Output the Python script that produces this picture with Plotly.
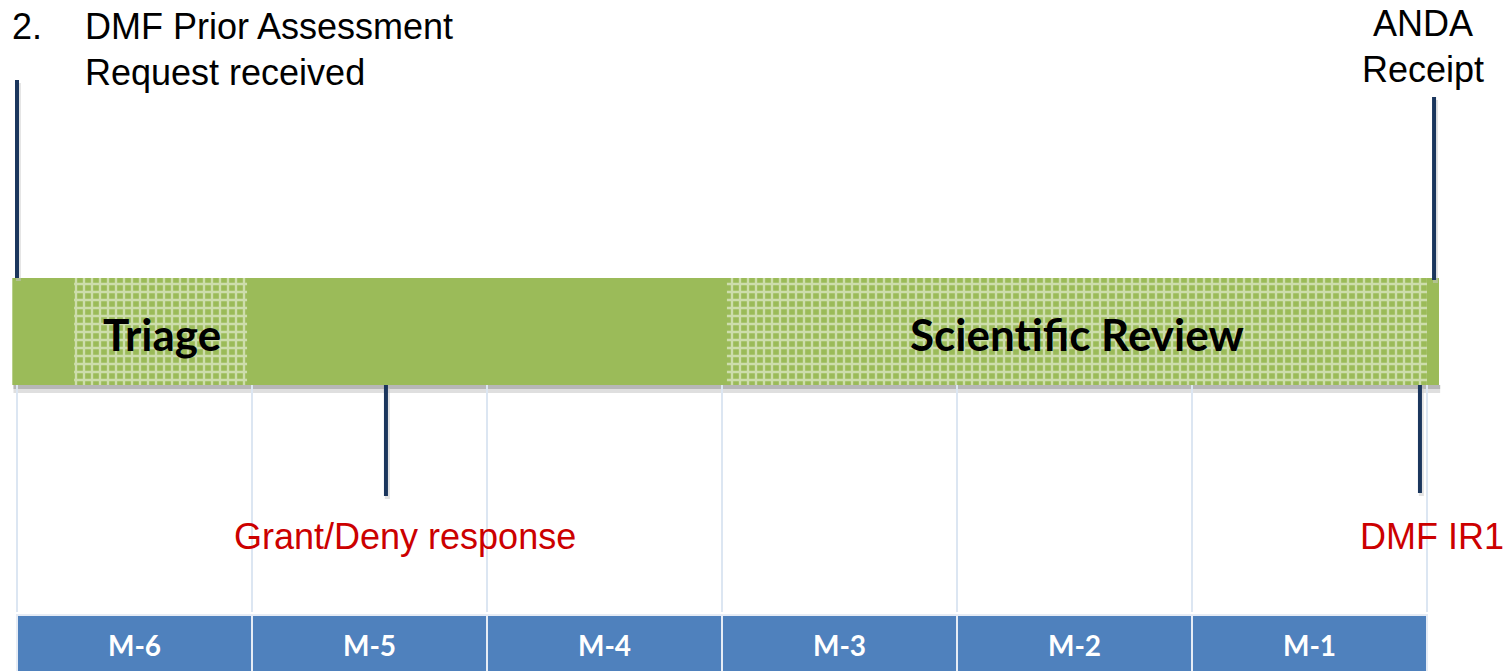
import plotly.graph_objects as go

# ---------------- data ----------------
months = ["M-6", "M-5", "M-4", "M-3", "M-2", "M-1"]
month_start = [-6, -5, -4, -3, -2, -1]
month_len = [1, 1, 1, 1, 1, 1]

phase_names = ["", "Triage", "Scientific Review"]
phase_start = [-6.02, -5.757, -2.979]
phase_end = [0.051, -5.021, 0.0]
phase_hatched = [False, True, True]
phase_label_x = [None, -5.385, -1.491]

milestone_x = [-6.0, 0.03, -4.43, -0.03]          # vertical marker positions (months)
milestone_top = [80, 97, 385, 385]                 # layout rows (px from top)
milestone_bot = [278, 280, 496, 493]

red_labels = ["Grant/Deny response", "DMF IR1"]
red_label_x = [-4.349, 0.022]

top_left_num = "2."
top_left_lines = ["DMF Prior Assessment", "Request received"]
top_right_lines = ["ANDA", "Receipt"]

# ---------------- layout constants ----------------
W, H = 1506, 671
PX_PER_MONTH = 235.0
X0_PX = 17.0  # pixel position of month -6
xr = [-6 - X0_PX / PX_PER_MONTH, -6 + (W - X0_PX) / PX_PER_MONTH]
BAR_TOP, BAR_BOT = 278, 385
BAND_TOP, BAND_BOT = 612, 671

GREEN = "#9BBB59"
NAVY = "#1B365D"
BLUE = "#4F81BD"
GRIDC = "#DCE6F2"
RED = "#CC0000"

fig = go.Figure()

# shadow under green bar
fig.add_trace(go.Bar(orientation="h", base=[phase_start[0] + 0.005], x=[phase_end[0] - phase_start[0]],
                     y=[(BAR_BOT + BAR_BOT + 8) / 2], width=[8],
                     marker=dict(color="rgba(150,150,150,0.3)", line=dict(width=0)),
                     hoverinfo="skip", showlegend=False))
fig.add_trace(go.Bar(orientation="h", base=[phase_start[0] + 0.005], x=[phase_end[0] - phase_start[0]],
                     y=[(BAR_BOT + BAR_BOT + 4) / 2], width=[4],
                     marker=dict(color="rgba(150,150,150,0.55)", line=dict(width=0)),
                     hoverinfo="skip", showlegend=False))

# light month gridlines
gx, gy = [], []
for s in month_start + [0]:
    gx += [s, s, None]
    gy += [BAR_BOT, BAND_TOP, None]
fig.add_trace(go.Scatter(x=gx, y=gy, mode="lines", line=dict(color=GRIDC, width=2),
                         hoverinfo="skip", showlegend=False))

# phase bars
for name, s, e, hatched in zip(phase_names, phase_start, phase_end, phase_hatched):
    marker = dict(color=GREEN, line=dict(width=0))
    if hatched:
        marker["pattern"] = dict(shape="+", fgcolor="white", size=8, solidity=0.5, fillmode="overlay")
    fig.add_trace(go.Bar(orientation="h", base=[s], x=[e - s], y=[(BAR_TOP + BAR_BOT) / 2],
                         width=[BAR_BOT - BAR_TOP], marker=marker, hoverinfo="skip", showlegend=False))

# month band
fig.add_trace(go.Bar(orientation="h", base=month_start, x=month_len,
                     y=[(BAND_TOP + BAND_BOT) / 2 + 3] * len(months), width=[BAND_BOT - BAND_TOP] * len(months),
                     marker=dict(color=BLUE, line=dict(color="#E6ECF5", width=2)),
                     text=[f"<b>{m}</b>" for m in months], textposition="inside",
                     insidetextanchor="middle", constraintext="none",
                     textfont=dict(family="Lato", size=28, color="white"),
                     hoverinfo="skip", showlegend=False))

# milestone markers (navy)
for x, t, b in zip(milestone_x, milestone_top, milestone_bot):
    fig.add_trace(go.Scatter(x=[x + 0.006, x + 0.006], y=[t + 3, b + 3], mode="lines",
                             line=dict(color="rgba(200,200,200,0.5)", width=5),
                             hoverinfo="skip", showlegend=False))
    fig.add_trace(go.Scatter(x=[x, x], y=[t, b], mode="lines", line=dict(color=NAVY, width=4),
                             hoverinfo="skip", showlegend=False))

ann = []
for name, lx in zip(phase_names, phase_label_x):
    if name:
        ann.append(dict(x=lx, y=334, text=f"<b>{name}</b>", showarrow=False,
                        font=dict(family="Lato", size=44, color="black"),
                        xanchor="center", yanchor="middle"))
for t, lx in zip(red_labels, red_label_x):
    ann.append(dict(x=lx, y=536, text=t, showarrow=False,
                    font=dict(family="Liberation Sans", size=36, color=RED),
                    xanchor="center", yanchor="middle"))

ann.append(dict(x=-6 - 7 / PX_PER_MONTH, y=26, text=top_left_num, showarrow=False, xanchor="left",
                yanchor="middle", font=dict(family="Liberation Sans", size=36, color="black")))
for i, line in enumerate(top_left_lines):
    ann.append(dict(x=-6 + 66 / PX_PER_MONTH, y=26 + 46 * i, text=line, showarrow=False, xanchor="left",
                    yanchor="middle", font=dict(family="Liberation Sans", size=36, color="black")))
for i, line in enumerate(top_right_lines):
    ann.append(dict(x=-0.017, y=23 + 46 * i, text=line, showarrow=False, xanchor="center",
                    yanchor="middle", font=dict(family="Liberation Sans", size=36, color="black")))

fig.update_layout(
    width=W, height=H, margin=dict(l=0, r=0, t=0, b=0),
    paper_bgcolor="white", plot_bgcolor="white",
    barmode="overlay", showlegend=False, annotations=ann,
    xaxis=dict(range=xr, visible=False, fixedrange=True),
    yaxis=dict(range=[H, 0], visible=False, fixedrange=True),
)

fig.write_html("out.html", config={"displayModeBar": False},
               post_script="document.body.style.margin='0';document.body.style.overflow='hidden';")
